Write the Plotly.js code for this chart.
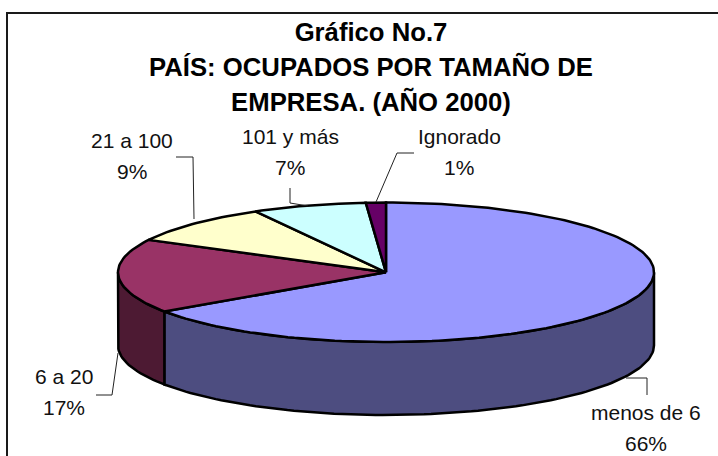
<!DOCTYPE html>
<html>
<head>
<meta charset="utf-8">
<script src="https://cdn.plot.ly/plotly-3.0.1.min.js"></script>
<style>html,body{margin:0;padding:0;background:#fff}#chart{width:718px;height:456px}</style>
</head>
<body>
<div id="chart"></div>
<script>
// Data
const categories = ["menos de 6", "6 a 20", "21 a 100", "101 y más", "Ignorado"];
const shares = [65.5, 17.2, 9.2, 6.9, 1.2];
const topColors = ["#9999FF", "#993366", "#FFFFCC", "#CCFFFF", "#660066"];
const sideColors = ["#4D4D80", "#4D1A33", "#808066", "#668080", "#330033"];
const titleText = "Gráfico No.7<br>PAÍS: OCUPADOS POR TAMAÑO DE<br>EMPRESA. (AÑO 2000)";

// Layout constants (pixels in the 718x456 page)
const W = 718, H = 456;
const cx = 386, cy = 272.3, rx = 268, ry = 69.7, depthPx = 73;
const depth = depthPx / ry;
const labelBoxes = [
  {x: 646, y1: 412, y2: 443},
  {x: 64,  y1: 376, y2: 407},
  {x: 132, y1: 140, y2: 171},
  {x: 290, y1: 136, y2: 167},
  {x: 459, y1: 136, y2: 167}
];
const leaders = [
  [[626, 378], [647, 378], [647, 395]],
  [[118, 353], [112, 395], [96, 395]],
  [[194, 219], [193, 157], [176, 157]],
  [[308, 206], [290, 203], [290, 188]],
  [[376, 202], [397, 153], [414, 153]]
];

const px = x => x / W;
const py = y => 1 - y / H;
const total = shares.reduce((a, b) => a + b, 0);
const rad = d => d * Math.PI / 180;
const ptX = t => Math.sin(rad(t));
const ptY = t => Math.cos(rad(t));
function arc(a, b) {
  const out = [];
  const n = Math.max(2, Math.ceil(Math.abs(b - a) / 1.5));
  for (let i = 0; i <= n; i++) out.push(a + (b - a) * i / n);
  return out;
}

const traces = [];
const tops = [];
let start = 0;
shares.forEach((v, i) => {
  const end = start + v / total * 360;
  const s = Math.max(start, 90), e = Math.min(end, 270);
  if (e > s) {
    const a = arc(s, e), back = arc(e, s);
    traces.push({
      type: "scatter", mode: "lines", fill: "toself", fillcolor: sideColors[i],
      name: categories[i] + " (lado)", hoverinfo: "skip", showlegend: false,
      line: {color: "#000", width: 2.5},
      x: a.map(ptX).concat(back.map(ptX), [ptX(s)]),
      y: a.map(ptY).concat(back.map(t => ptY(t) - depth), [ptY(s)])
    });
  }
  const a = arc(start, end);
  tops.push({
    type: "scatter", mode: "lines", fill: "toself", fillcolor: topColors[i],
    name: categories[i], hoverinfo: "name", showlegend: false,
    line: {color: "#000", width: 2.5},
    x: [0].concat(a.map(ptX), [0]),
    y: [0].concat(a.map(ptY), [0])
  });
  start = end;
});

const annotations = [];
categories.forEach((c, i) => {
  const b = labelBoxes[i];
  const base = {xref: "paper", yref: "paper", showarrow: false, xanchor: "center", yanchor: "middle",
    font: {family: "Liberation Sans, Arial, sans-serif", size: 21, color: "#111"}};
  annotations.push(Object.assign({}, base, {x: px(b.x), y: py(b.y1), text: c}));
  annotations.push(Object.assign({}, base, {x: px(b.x), y: py(b.y2), text: Math.round(shares[i]) + "%"}));
});

const shapes = [
  {type: "line", xref: "paper", yref: "paper", x0: px(7), x1: px(7), y0: 0, y1: py(13), line: {color: "#1a1a1a", width: 2}},
  {type: "line", xref: "paper", yref: "paper", x0: px(6), x1: 1, y0: py(13), y1: py(13), line: {color: "#1a1a1a", width: 2}}
];
leaders.forEach(l => {
  for (let i = 0; i < l.length - 1; i++) {
    shapes.push({type: "line", xref: "paper", yref: "paper",
      x0: px(l[i][0]), y0: py(l[i][1]), x1: px(l[i + 1][0]), y1: py(l[i + 1][1]),
      line: {color: "#222", width: 1}});
  }
});

const layout = {
  width: W, height: H,
  margin: {l: 0, r: 0, t: 0, b: 0},
  paper_bgcolor: "#fff", plot_bgcolor: "#fff",
  showlegend: false,
  title: {text: titleText, x: 371 / W, xanchor: "center", y: 1 - 41 / H, yanchor: "top",
    font: {family: "Liberation Sans, Arial, sans-serif", size: 25.7, color: "#000", weight: 700}},
  xaxis: {visible: false, fixedrange: true, range: [-cx / rx, (W - cx) / rx]},
  yaxis: {visible: false, fixedrange: true, range: [-(H - cy) / ry, cy / ry]},
  shapes, annotations
};

Plotly.newPlot("chart", traces.concat(tops), layout, {displayModeBar: false, responsive: false}).then(() => {
  // Excel's title has wider line spacing than Plotly's fixed 1.3em
  document.querySelectorAll(".gtitle tspan.line").forEach((t, i) => {
    if (i > 0) { t.removeAttribute("y"); t.setAttribute("dy", "35px"); }
  });
});
</script>
</body>
</html>
